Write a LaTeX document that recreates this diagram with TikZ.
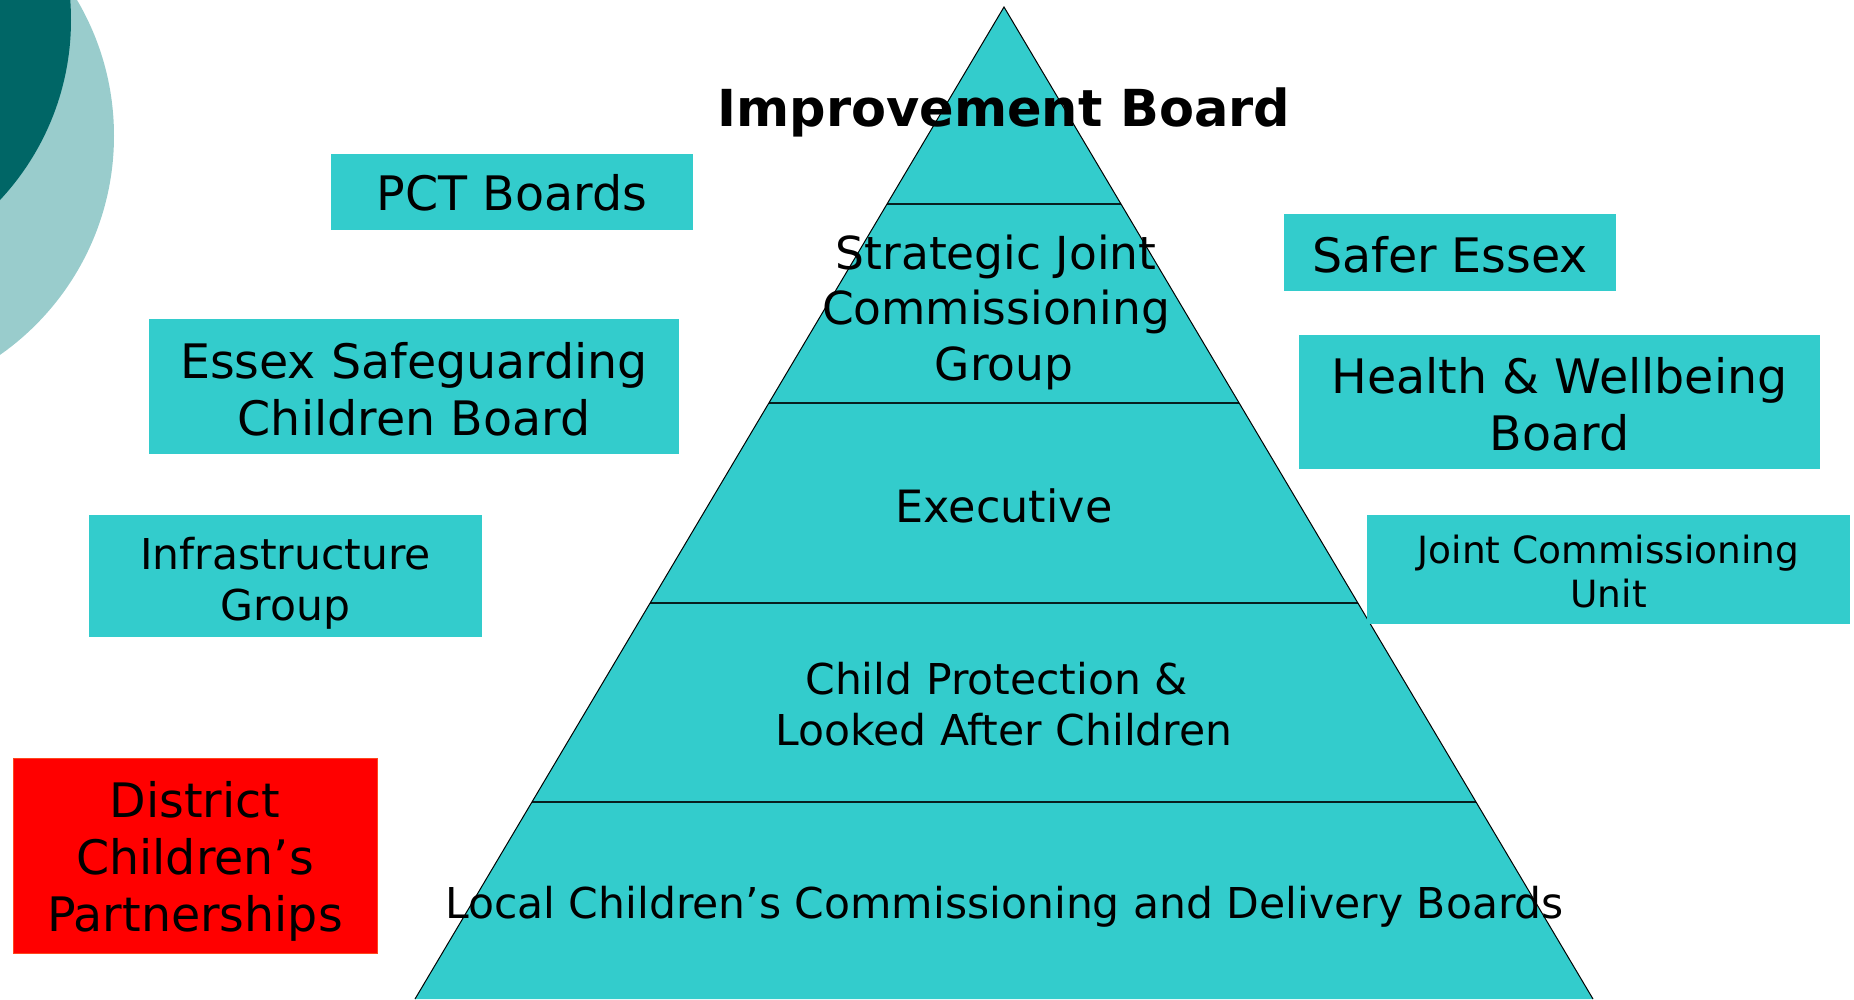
\documentclass[tikz,border=0pt]{standalone}
\usepackage{fontspec}
\setmainfont{DejaVu Sans}
\usetikzlibrary{calc}
\definecolor{tealfill}{RGB}{51,204,204}
\definecolor{darkteal}{RGB}{0,102,102}
\definecolor{lightteal}{RGB}{153,204,204}
\definecolor{redfill}{RGB}{255,0,0}
\definecolor{rededge}{RGB}{255,70,30}
\newcommand{\trail}{\rule{.35em}{0pt}}
\begin{document}
\begin{tikzpicture}[x=1pt,y=-1pt,
  sidebox/.style={fill=tealfill, inner sep=0pt, align=center, text=black},
  bigtxt/.style={font=\fontsize{47.5}{57}\selectfont},
  lvl/.style={inner sep=0pt, align=center, text=black},
  divider/.style={line width=1.6pt, draw=black!85!tealfill},
  outline/.style={line width=1pt, draw=black},
]
\useasboundingbox (0,0) rectangle (1854,999);
\begin{scope}
  \clip (0,0) rectangle (1854,999);
  \fill[lightteal] (-153.5,135.8) circle[radius=267.5];
  \fill[darkteal] (-192.7,20) circle[radius=263.7];
\end{scope}

% pyramid
\coordinate (apex) at (1004,7);
\coordinate (bl) at (415,999);
\coordinate (br) at (1593,999);
\fill[tealfill] (apex) -- (br) -- (bl) -- cycle;
\foreach \t/\n in {0.1986/a,0.3992/b,0.6008/c,0.8014/d}{
  \coordinate (L\n) at ($(apex)!\t!(bl)$);
  \coordinate (R\n) at ($(apex)!\t!(br)$);
  \draw[divider] (L\n) -- (R\n);
}
\draw[outline] (bl) -- (apex) -- (br);

% level labels
\node[lvl, font=\bfseries\fontsize{51}{60}\selectfont] (title) at (1004,112.5) {Improvement Board};
\node[lvl, font=\fontsize{45.5}{55.5}\selectfont] (sjcg) at (1004,312) {Strategic Joint\trail\\Commissioning\trail\\Group};
\node[lvl, font=\fontsize{44.5}{53}\selectfont] (exec) at (1004,506) {Executive};
\node[lvl, font=\fontsize{42.5}{51}\selectfont] (cp) at (1004,704) {Child Protection \&\trail\\Looked After Children};
\node[lvl, font=\fontsize{42.5}{51}\selectfont] (local) at (1004.5,907) {Local Children’s Commissioning and Delivery Boards};

% side boxes
\node[sidebox, bigtxt, minimum width=362pt, minimum height=76pt] (pct) at (512,192) {};
\node[lvl, bigtxt] (pcttxt) at (512,193.2) {PCT Boards};
\node[sidebox, bigtxt, minimum width=530pt, minimum height=135pt] (escb) at (414,386.5) {};
\node[lvl, bigtxt] (escbtxt) at (414,389) {Essex Safeguarding\\Children Board};
\node[sidebox, minimum width=393pt, minimum height=122pt] (infra) at (285.5,576) {};
\node[lvl, font=\fontsize{42.5}{51}\selectfont] (infratxt) at (285.5,583) {Infrastructure\\Group};
\node[sidebox, fill=redfill, draw=rededge, line width=1pt, minimum width=364pt, minimum height=195pt] (dcp) at (195,855.5) {};
\node[lvl, bigtxt] (dcptxt) at (195,861.5) {District\\Children’s\\Partnerships};
\node[sidebox, minimum width=332pt, minimum height=77pt] (safer) at (1450,252.5) {};
\node[lvl, bigtxt] (safertxt) at (1450,255) {Safer Essex};
\node[sidebox, minimum width=521pt, minimum height=134pt] (hwb) at (1559.5,402) {};
\node[lvl, bigtxt] (hwbtxt) at (1559.5,404.4) {Health \& Wellbeing\\Board};
\node[sidebox, minimum width=483pt, minimum height=109pt] (jcu) at (1608.5,569.5) {};
\node[lvl, font=\fontsize{37.5}{44}\selectfont] (jcutxt) at (1608.5,572) {Joint Commissioning\\Unit};
\end{tikzpicture}
\end{document}
